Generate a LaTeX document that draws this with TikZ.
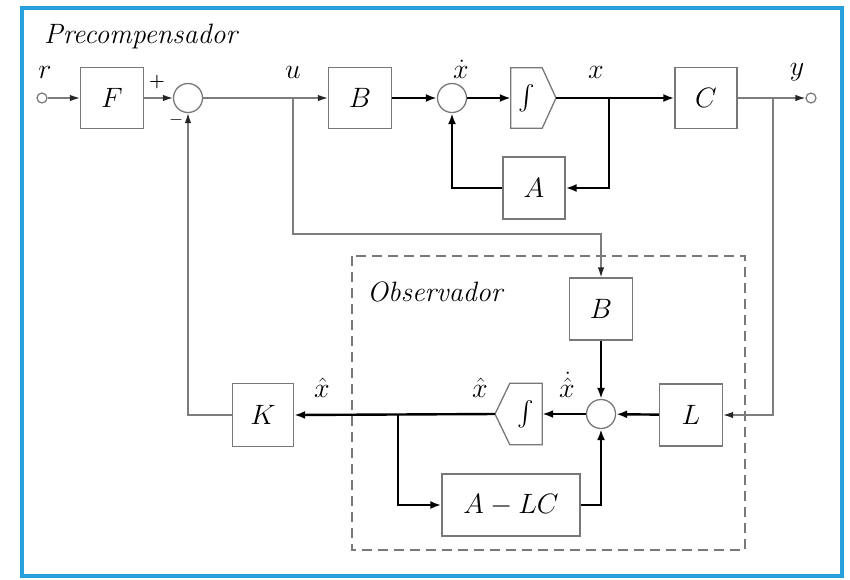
\RequirePackage{fix-cm}
\documentclass[tikz,border=0pt]{standalone}
\usepackage{amsmath}
\usetikzlibrary{arrows.meta,calc}
\definecolor{boxgray}{RGB}{120,120,120}
\definecolor{linegray}{RGB}{125,125,125}
\definecolor{frameblue}{RGB}{40,160,218}
\begin{document}
\begin{tikzpicture}[x=1pt,y=-1pt,
  font=\fontsize{28}{33}\selectfont,
  blk/.style={draw=boxgray, line width=1.3pt, minimum width=62pt, minimum height=61pt, inner sep=0pt},
  sumc/.style={circle, draw=boxgray, line width=1.3pt, minimum size=29pt, inner sep=0pt},
  term/.style={circle, draw=boxgray, line width=1.2pt, minimum size=10pt, inner sep=0pt, fill=white},
  sig/.style={draw=linegray, line width=1.3pt, -{Latex[length=10pt,width=6.5pt,color=black!85]}},
  stsig/.style={draw=black, line width=2.4pt, -{Latex[length=11pt,width=8pt]}},
  intnode/.style={minimum width=31pt, minimum height=60pt, inner sep=0pt, font=\fontsize{34}{36}\selectfont},
  intshape/.style={draw=boxgray, line width=1.3pt},
  lbl/.style={inner sep=0pt},
  pm/.style={inner sep=0pt, font=\fontsize{18}{20}\selectfont\bfseries},
  ttl/.style={inner sep=0pt, anchor=west, font=\fontsize{28}{32}\selectfont\itshape}
]
\useasboundingbox (0,0) rectangle (850,579);
\fill[white] (0,0) rectangle (850,579);
\draw[frameblue, line width=4pt] (22,8) rectangle (842,576);

% titles
\node[ttl] (tpre) at (44,36) {Precompensador};
\node[ttl] (tobs) at (367,292) {Observador};
\draw[boxgray, line width=1.2pt, dash pattern=on 10pt off 6pt] (352,256) rectangle (745,550);

% upper blocks
\node[term] (r) at (42,98) {};
\node[blk, minimum width=63pt] (F) at (112,98) {$F$};
\node[sumc] (s1) at (188,98) {};
\node[blk, minimum width=63pt] (B1) at (360,98) {$B$};
\node[sumc] (s2) at (452,98) {};
\node[intnode] (i1) at (526.5,98) {$\int$};
\coordinate (i1tip) at (556,98);
\draw[intshape] (i1.north west) -- (i1.north east) -- (i1tip) -- (i1.south east) -- (i1.south west) -- cycle;
\node[blk] (C) at (706,98) {$C$};
\node[term] (y) at (811,98) {};
\node[blk, minimum height=62pt] (A) at (534,188) {$A$};

% observer blocks
\node[blk, minimum width=63pt, minimum height=62pt] (B2) at (601,309) {$B$};
\node[sumc] (s3) at (601,414) {};
\node[blk, minimum width=63pt, minimum height=62pt] (L) at (691,415) {$L$};
\node[intnode, minimum width=32pt, minimum height=61pt] (i2) at (526,414) {$\int$};
\coordinate (i2tip) at (495,414);
\draw[intshape] (i2.north east) -- (i2.north west) -- (i2tip) -- (i2.south west) -- (i2.south east) -- cycle;
\node[blk, minimum width=138pt, minimum height=62pt] (ALC) at (511,505) {$A-LC$};
\node[blk, minimum width=61pt, minimum height=63pt] (K) at (263,415) {$K$};

% branch coordinates
\coordinate (bu) at (293,98);
\coordinate (bx) at (609,98);
\coordinate (by) at (773,98);
\coordinate (bxh) at (398,414);

% thin signals
\draw[sig] (r) -- (F);
\draw[sig] (F) -- (s1);
\draw[sig] (s1) -- (B1);
\draw[sig] (bu) |- (601,234) -- (B2.north);
\draw[sig] (C) -- (y);
\draw[sig] (by) |- (L.east);
\draw[sig] (K.west) -| (s1.south);

% thick signals
\draw[stsig] (B1) -- (s2);
\draw[stsig] (s2) -- (i1.west);
\draw[stsig] (i1tip) -- (C.west);
\draw[stsig] (bx) |- (A.east);
\draw[stsig] (A.west) -| (s2.south);
\draw[stsig] (B2) -- (s3);
\draw[stsig] (L) -- (s3);
\draw[stsig] (s3) -- (i2.east);
\draw[stsig] (i2tip) -- (K.east);
\draw[stsig] (bxh) |- (ALC.west);
\draw[stsig] (ALC.east) -| (s3.south);

% labels
\node[lbl] (lr) at (45,72) {$r$};
\node[pm] (lplus) at (157,82) {+};
\node[pm] (lminus) at (176,120) {$-$};
\node[lbl] (lu) at (293,72) {$u$};
\node[lbl] (lxd) at (461,69) {$\dot{x}$};
\node[lbl] (lx) at (596,72) {$x$};
\node[lbl] (ly) at (797,72) {$y$};
\node[lbl] (lxh1) at (322,388) {$\hat{x}$};
\node[lbl] (lxh2) at (480,388) {$\hat{x}$};
\node[lbl] (lxhd) at (567,385) {$\dot{\hat{x}}$};
\end{tikzpicture}
\end{document}
